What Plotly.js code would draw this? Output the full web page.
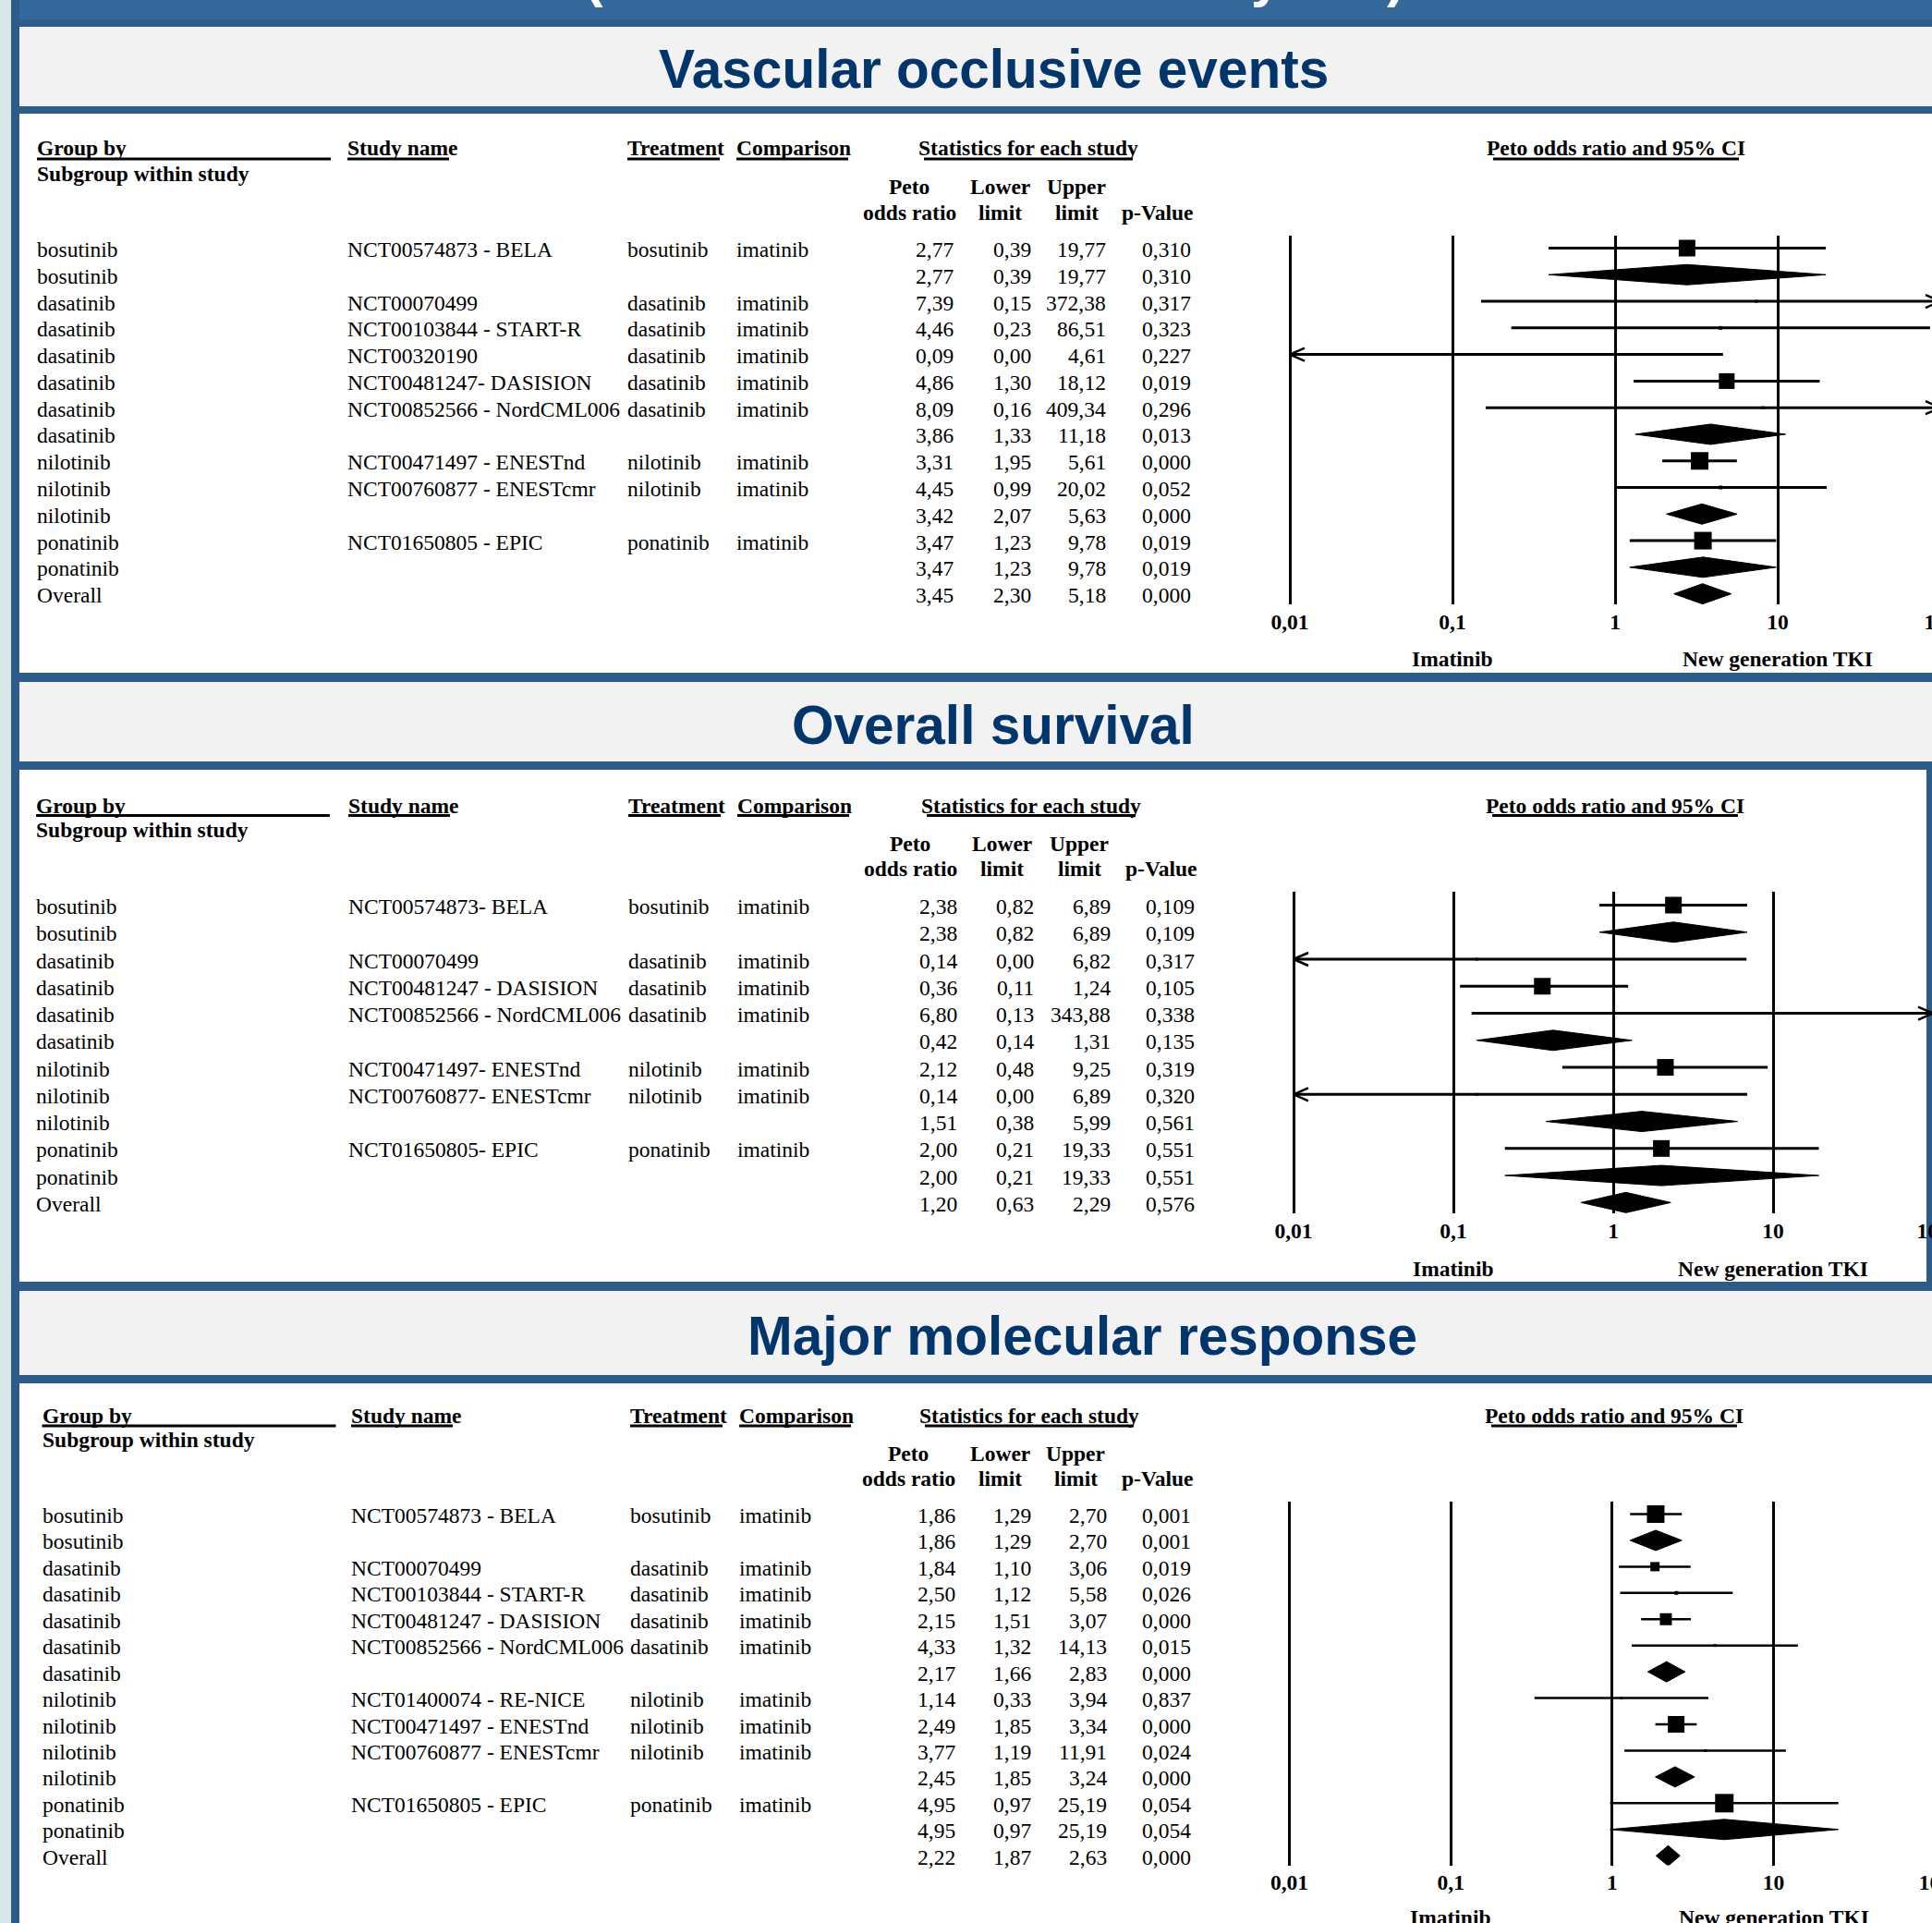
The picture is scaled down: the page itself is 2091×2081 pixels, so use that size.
<!DOCTYPE html>
<html>
<head>
<meta charset="utf-8">
<script src="https://cdn.plot.ly/plotly-3.0.1.min.js"></script>
<style>
html,body{margin:0;padding:0;overflow:hidden;background:#ffffff;}
#chart{width:2300px;height:2081px;}
</style>
</head>
<body>
<div id="chart"></div>
<script>
// ================= DATA =================
const panelTitles = ['Vascular occlusive events', 'Overall survival', 'Major molecular response'];
const bannerFragments = ['(', 'y', ')'];

const hdrGroup = 'Group by';
const hdrSubgroup = 'Subgroup within study';
const hdrStudy = 'Study name';
const hdrTreatment = 'Treatment';
const hdrComparison = 'Comparison';
const hdrStats = 'Statistics for each study';
const hdrForest = 'Peto odds ratio and 95% CI';
const hdrStatTop = ['Peto', 'Lower', 'Upper', ''];
const hdrStatBottom = ['odds ratio', 'limit', 'limit', 'p-Value'];
const favoursLeft = 'Imatinib';
const favoursRight = 'New generation TKI';

const tickVals = [0.01, 0.1, 1, 10, 100];
const tickText = ['0,01', '0,1', '1', '10', '100'];

// --- Vascular occlusive events ---
const vascGroup = ['bosutinib','bosutinib','dasatinib','dasatinib','dasatinib','dasatinib','dasatinib','dasatinib','nilotinib','nilotinib','nilotinib','ponatinib','ponatinib','Overall'];
const vascStudy = ['NCT00574873 - BELA','','NCT00070499','NCT00103844 - START-R','NCT00320190','NCT00481247- DASISION','NCT00852566 - NordCML006','','NCT00471497 - ENESTnd','NCT00760877 - ENESTcmr','','NCT01650805 - EPIC','',''];
const vascTreatment = ['bosutinib','','dasatinib','dasatinib','dasatinib','dasatinib','dasatinib','','nilotinib','nilotinib','','ponatinib','',''];
const vascComparison = ['imatinib','','imatinib','imatinib','imatinib','imatinib','imatinib','','imatinib','imatinib','','imatinib','',''];
const vascOR = [2.77,2.77,7.39,4.46,0.09,4.86,8.09,3.86,3.31,4.45,3.42,3.47,3.47,3.45];
const vascLower = [0.39,0.39,0.15,0.23,0.00,1.30,0.16,1.33,1.95,0.99,2.07,1.23,1.23,2.30];
const vascUpper = [19.77,19.77,372.38,86.51,4.61,18.12,409.34,11.18,5.61,20.02,5.63,9.78,9.78,5.18];
const vascP = [0.310,0.310,0.317,0.323,0.227,0.019,0.296,0.013,0.000,0.052,0.000,0.019,0.019,0.000];
const vascKind = ['study','sub','study','study','study','study','study','sub','study','study','sub','study','sub','overall'];
const vascBoxSize = [18,0,3,4,3,17,3,0,19,4,0,19,0,0];

// --- Overall survival ---
const osGroup = ['bosutinib','bosutinib','dasatinib','dasatinib','dasatinib','dasatinib','nilotinib','nilotinib','nilotinib','ponatinib','ponatinib','Overall'];
const osStudy = ['NCT00574873- BELA','','NCT00070499','NCT00481247 - DASISION','NCT00852566 - NordCML006','','NCT00471497- ENESTnd','NCT00760877- ENESTcmr','','NCT01650805- EPIC','',''];
const osTreatment = ['bosutinib','','dasatinib','dasatinib','dasatinib','','nilotinib','nilotinib','','ponatinib','',''];
const osComparison = ['imatinib','','imatinib','imatinib','imatinib','','imatinib','imatinib','','imatinib','',''];
const osOR = [2.38,2.38,0.14,0.36,6.80,0.42,2.12,0.14,1.51,2.00,2.00,1.20];
const osLower = [0.82,0.82,0.00,0.11,0.13,0.14,0.48,0.00,0.38,0.21,0.21,0.63];
const osUpper = [6.89,6.89,6.82,1.24,343.88,1.31,9.25,6.89,5.99,19.33,19.33,2.29];
const osP = [0.109,0.109,0.317,0.105,0.338,0.135,0.319,0.320,0.561,0.551,0.551,0.576];
const osKind = ['study','sub','study','study','study','sub','study','study','sub','study','sub','overall'];
const osBoxSize = [18,0,3,18,3,0,18,3,0,18,0,0];

// --- Major molecular response ---
const mmrGroup = ['bosutinib','bosutinib','dasatinib','dasatinib','dasatinib','dasatinib','dasatinib','nilotinib','nilotinib','nilotinib','nilotinib','ponatinib','ponatinib','Overall'];
const mmrStudy = ['NCT00574873 - BELA','','NCT00070499','NCT00103844 - START-R','NCT00481247 - DASISION','NCT00852566 - NordCML006','','NCT01400074 - RE-NICE','NCT00471497 - ENESTnd','NCT00760877 - ENESTcmr','','NCT01650805 - EPIC','',''];
const mmrTreatment = ['bosutinib','','dasatinib','dasatinib','dasatinib','dasatinib','','nilotinib','nilotinib','nilotinib','','ponatinib','',''];
const mmrComparison = ['imatinib','','imatinib','imatinib','imatinib','imatinib','','imatinib','imatinib','imatinib','','imatinib','',''];
const mmrOR = [1.86,1.86,1.84,2.50,2.15,4.33,2.17,1.14,2.49,3.77,2.45,4.95,4.95,2.22];
const mmrLower = [1.29,1.29,1.10,1.12,1.51,1.32,1.66,0.33,1.85,1.19,1.85,0.97,0.97,1.87];
const mmrUpper = [2.70,2.70,3.06,5.58,3.07,14.13,2.83,3.94,3.34,11.91,3.24,25.19,25.19,2.63];
const mmrP = [0.001,0.001,0.019,0.026,0.000,0.015,0.000,0.837,0.000,0.024,0.000,0.054,0.054,0.000];
const mmrKind = ['study','sub','study','study','study','study','sub','study','study','study','sub','study','sub','overall'];
const mmrBoxSize = [19,0,10,4,13,3,0,3,18,3,0,20,0,0];

// ================= LAYOUT (pixel geometry) =================
const W = 2300, H = 2081;
const px = x => x / W;
const py = y => 1 - y / H;
const fmt = (v, d) => v.toFixed(d).replace('.', ',');
const b = s => '<b>' + s + '</b>';

const SERIF = 'Liberation Serif, Times New Roman, serif';
const SANS = 'Liberation Sans, Arial, sans-serif';
const fBody = {family: SERIF, size: 23.5, color: '#000'};
const fTitle = {family: SANS, size: 58.5, color: '#00366B'};

const panels = [
  {title: panelTitles[0], group: vascGroup, study: vascStudy, treat: vascTreatment, comp: vascComparison,
   or: vascOR, lo: vascLower, hi: vascUpper, p: vascP, kind: vascKind, box: vascBoxSize,
   titleX: 1075, titleY: 75, colX: [40, 376, 679, 797], statR: [1032, 1116, 1197, 1289], statC: [984, 1082, 1165, 1253],
   statsC: 1113, forestC: 1749, yHead: 160, yUnder: 172, ySub: 188, yPeto: 202, yOdds: 230,
   x01: 1396, dec: 176, top: 255, bottom: 654, row0: 268.5, step: 28.78, yFav: 713, lw: 3, edge: false},
  {title: panelTitles[1], group: osGroup, study: osStudy, treat: osTreatment, comp: osComparison,
   or: osOR, lo: osLower, hi: osUpper, p: osP, kind: osKind, box: osBoxSize,
   titleX: 1075, titleY: 785, colX: [39, 377, 680, 798], statR: [1036, 1119, 1202, 1293], statC: [985, 1084, 1168, 1257],
   statsC: 1116, forestC: 1748, yHead: 872, yUnder: 882.5, ySub: 898, yPeto: 913, yOdds: 940,
   x01: 1400, dec: 173, top: 965, bottom: 1313, row0: 979.5, step: 29.26, yFav: 1373, lw: 3, edge: true},
  {title: panelTitles[2], group: mmrGroup, study: mmrStudy, treat: mmrTreatment, comp: mmrComparison,
   or: mmrOR, lo: mmrLower, hi: mmrUpper, p: mmrP, kind: mmrKind, box: mmrBoxSize,
   titleX: 1171, titleY: 1445, colX: [45.5, 380, 682, 800], statR: [1034, 1116, 1197.5, 1289], statC: [983, 1082, 1164, 1253],
   statsC: 1114, forestC: 1747, yHead: 1532, yUnder: 1543, ySub: 1558, yPeto: 1573, yOdds: 1600,
   x01: 1395.5, dec: 174.7, top: 1625, bottom: 2018.5, row0: 1638.5, step: 28.44, yFav: 2075, lw: 2.5, edge: false}
];

const traces = [];
const annotations = [];
const shapes = [];
const layout = {
  width: W, height: H, margin: {l: 0, r: 0, t: 0, b: 0},
  paper_bgcolor: '#ffffff', plot_bgcolor: 'rgba(0,0,0,0)', showlegend: false,
  shapes: shapes, annotations: annotations
};

function rect(x0, y0, x1, y1, color) {
  shapes.push({type: 'rect', xref: 'paper', yref: 'paper', x0: px(x0), x1: px(x1), y0: py(y1), y1: py(y0),
    fillcolor: color, line: {width: 0}, layer: 'below'});
}
function uline(x0, x1, y) {
  shapes.push({type: 'line', xref: 'paper', yref: 'paper', x0: px(x0), x1: px(x1), y0: py(y), y1: py(y),
    line: {color: '#000', width: 3}});
}
function note(text, x, y, xanchor, font, yref) {
  annotations.push({text: text, x: x, y: y, xref: 'paper', yref: yref || 'paper', xanchor: xanchor, yanchor: 'middle',
    showarrow: false, font: font, borderpad: 0, borderwidth: 0});
}

// backgrounds
rect(0, 0, 12, H, '#DAE7E9');
rect(12, 0, 21, H, '#2E5C8A');
rect(21, 0, W, 21, '#35699C');
rect(21, 21, W, 29, '#2F5D8C');
[[29, 115], [738, 824], [1397, 1488]].forEach(g => rect(21, g[0], W, g[1], '#F2F2F2'));
[[115, 123], [728, 738], [824, 833], [1387, 1397], [1488, 1497]].forEach(s => rect(21, s[0], W, s[1], '#2E5C8A'));
// right border visible on the middle panel
rect(2085, 833, W, 1387, '#2E5C8A');

// banner fragments (text cut off at the top edge)
const fragX = [643, 1370, 1510];
bannerFragments.forEach((t, i) => note(b(t), px(fragX[i]), py(-24), 'center', {family: SANS, size: 58.5, color: '#ffffff'}));

const PAD = 0.02; // small range padding so the 0,01 gridline is drawn

panels.forEach((p, k) => {
  const s = k === 0 ? '' : String(k + 1);
  const xa = 'x' + s, ya = 'y' + s;

  layout['xaxis' + s] = {
    type: 'log', range: [-2 - PAD, 2], domain: [px(p.x01 - PAD * p.dec), px(p.x01 + 4 * p.dec)], anchor: ya,
    tickmode: 'array', tickvals: tickVals, ticktext: tickText.map(b),
    showgrid: true, gridcolor: '#000', gridwidth: 3, zeroline: false, showline: false, ticks: '',
    tickfont: {family: SERIF, size: 23.5, color: '#000'}, ticklabelstandoff: 2, fixedrange: true
  };
  layout['yaxis' + s] = {
    domain: [py(p.bottom), py(p.top)],
    range: [(p.bottom - p.row0) / p.step, (p.top - p.row0) / p.step],
    showgrid: false, zeroline: false, showticklabels: false, ticks: '', showline: false,
    anchor: xa, fixedrange: true
  };

  // title
  note(b(p.title), px(p.titleX), py(p.titleY), 'center', fTitle);

  // headers
  note(b(hdrGroup), px(p.colX[0]), py(p.yHead), 'left', fBody);
  note(b(hdrSubgroup), px(p.colX[0]), py(p.ySub), 'left', fBody);
  note(b(hdrStudy), px(p.colX[1]), py(p.yHead), 'left', fBody);
  note(b(hdrTreatment), px(p.colX[2]), py(p.yHead), 'left', fBody);
  note(b(hdrComparison), px(p.colX[3]), py(p.yHead), 'left', fBody);
  note(b(hdrStats), px(p.statsC), py(p.yHead), 'center', fBody);
  note(b(hdrForest), px(p.forestC), py(p.yHead), 'center', fBody);
  hdrStatTop.forEach((t, j) => { if (t) note(b(t), px(p.statC[j]), py(p.yPeto), 'center', fBody); });
  hdrStatBottom.forEach((t, j) => note(b(t), px(p.statC[j]), py(p.yOdds), 'center', fBody));

  uline(p.colX[0], p.colX[0] + 318, p.yUnder);
  uline(p.colX[1], p.colX[1] + 110, p.yUnder);
  uline(p.colX[2], p.colX[2] + 100, p.yUnder);
  uline(p.colX[3], p.colX[3] + 121, p.yUnder);
  uline(p.statsC - 113, p.statsC + 113, p.yUnder);
  uline(p.forestC - 133, p.forestC + 133, p.yUnder);

  // favours labels
  annotations.push({text: b(favoursLeft), x: Math.log10(0.1), y: py(p.yFav), xref: xa, yref: 'paper',
    xanchor: 'center', yanchor: 'middle', showarrow: false, font: fBody, borderpad: 0, borderwidth: 0});
  annotations.push({text: b(favoursRight), x: Math.log10(10), y: py(p.yFav), xref: xa, yref: 'paper',
    xanchor: 'center', yanchor: 'middle', showarrow: false, font: fBody, borderpad: 0, borderwidth: 0});

  // table rows
  const tOff = 1.5 / p.step;
  p.or.forEach((v, i) => {
    const yy = i + tOff;
    if (p.group[i]) note(p.group[i], px(p.colX[0]), yy, 'left', fBody, ya);
    if (p.study[i]) note(p.study[i], px(p.colX[1]), yy, 'left', fBody, ya);
    if (p.treat[i]) note(p.treat[i], px(p.colX[2]), yy, 'left', fBody, ya);
    if (p.comp[i]) note(p.comp[i], px(p.colX[3]), yy, 'left', fBody, ya);
    note(fmt(v, 2), px(p.statR[0]), yy, 'right', fBody, ya);
    note(fmt(p.lo[i], 2), px(p.statR[1]), yy, 'right', fBody, ya);
    note(fmt(p.hi[i], 2), px(p.statR[2]), yy, 'right', fBody, ya);
    note(fmt(p.p[i], 3), px(p.statR[3]), yy, 'right', fBody, ya);
  });

  // forest marks
  const ciX = [], ciY = [], arX = [], arY = [], sqX = [], sqY = [], sqS = [];
  const armLog = 16 / p.dec, armH = 7 / p.step, dH = 11 / p.step;
  p.or.forEach((v, i) => {
    const lo = Math.max(p.lo[i], 0.01), hi = Math.min(p.hi[i], 100);
    if (p.kind[i] === 'study') {
      ciX.push(lo, hi, null); ciY.push(i, i, null);
      if (p.lo[i] < 0.01) {
        arX.push(Math.pow(10, -2 + armLog), 0.01, Math.pow(10, -2 + armLog), null);
        arY.push(i - armH, i, i + armH, null);
      }
      if (p.hi[i] > 100) {
        arX.push(Math.pow(10, 2 - armLog), 100, Math.pow(10, 2 - armLog), null);
        arY.push(i - armH, i, i + armH, null);
      }
      sqX.push(v); sqY.push(i); sqS.push(p.box[i]);
    } else {
      traces.push({type: 'scatter', mode: 'lines', xaxis: xa, yaxis: ya, hoverinfo: 'skip',
        x: [lo, v, hi, v, lo], y: [i, i - dH, i, i + dH, i], fill: 'toself', fillcolor: '#000',
        line: {color: '#000', width: 1}});
    }
  });
  traces.push({type: 'scatter', mode: 'lines', xaxis: xa, yaxis: ya, hoverinfo: 'skip', connectgaps: false,
    x: ciX, y: ciY, line: {color: '#000', width: p.lw}});
  traces.push({type: 'scatter', mode: 'lines', xaxis: xa, yaxis: ya, hoverinfo: 'skip', connectgaps: false,
    x: arX, y: arY, line: {color: '#000', width: 2.5}});
  traces.push({type: 'scatter', mode: 'markers', xaxis: xa, yaxis: ya, hoverinfo: 'skip', cliponaxis: false,
    x: sqX, y: sqY, marker: {symbol: 'square', size: sqS, color: '#000', opacity: 1, line: {width: 0}}});
});

Plotly.newPlot('chart', traces, layout, {displayModeBar: false, staticPlot: true});
</script>
</body>
</html>
